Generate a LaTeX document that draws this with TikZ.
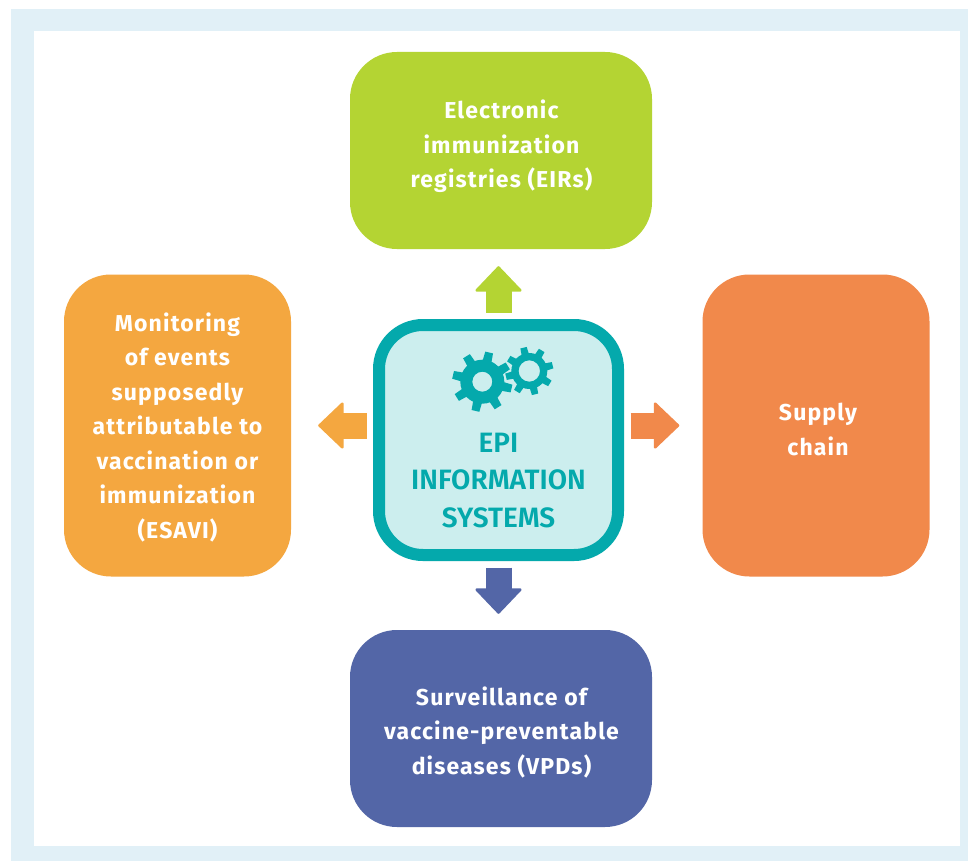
\documentclass[tikz,border=0pt]{standalone}
\usepackage{fontspec}
\setmainfont{Fira Sans}
\newfontfamily\epifont{Fira Sans SemiBold}
\usepackage{tikz}
\usetikzlibrary{arrows.meta,calc}
\definecolor{framecol}{HTML}{E1F0F7}
\definecolor{greencol}{HTML}{B4D433}
\definecolor{orangecol}{HTML}{F4A740}
\definecolor{redcol}{HTML}{F1894B}
\definecolor{bluecol}{HTML}{5366A7}
\definecolor{tealcol}{HTML}{04A9AC}
\definecolor{palecol}{HTML}{CCEEEE}
\tikzset{
	topic/.style={rounded corners=47pt, inner sep=0pt},
	topiclabel/.style={text=white, align=center, inner sep=0pt,
			font=\addfontfeature{LetterSpace=5}\fontsize{23}{34.5}\selectfont\bfseries},
	link/.style={line width=26pt,
			-{Triangle[width=49pt,length=26pt,line width=2.5pt,round]}, shorten <=6.5pt}
}
\newcommand{\cog}[6]{% x, y, body radius, hole radius, tip radius, angle
	\foreach \a in {0,45,...,315} {
			\fill[tealcol, rotate around={#6+\a:(#1,#2)}]
			(#1-0.21*#3,#2+0.85*#3) -- (#1+0.21*#3,#2+0.85*#3)
			-- (#1+0.18*#3,#2+#5) -- (#1-0.18*#3,#2+#5) -- cycle;
		}
	\fill[tealcol, even odd rule] (#1,#2) circle[radius=#3] (#1,#2) circle[radius=#4];
}
\begin{document}
\begin{tikzpicture}[x=1pt,y=-1pt]
	\useasboundingbox (0,0) rectangle (968,861);
	\fill[white] (0,0) rectangle (968,861);
	\fill[framecol] (11,9) rectangle (968,861);
	\fill[white] (34,31) rectangle (960,846);

	\node[topic, fill=greencol, minimum width=302pt, minimum height=197pt] (eirs) at (501,150.5) {};
	\node[topic, fill=orangecol, minimum width=227pt, minimum height=302pt] (esavi) at (177.5,425.5) {};
	\node[topic, fill=redcol, minimum width=227pt, minimum height=302pt] (supply) at (816,425.5) {};
	\node[topic, fill=bluecol, minimum width=302pt, minimum height=197pt] (vpds) at (501,728.5) {};
	\node[draw=tealcol, line width=12pt, fill=palecol, rounded corners=44pt,
		minimum width=239pt, minimum height=230pt] (epi) at (498.5,440) {};

	\node[topiclabel] (eirslabel) at (501.5,146.5) {Electronic\\immunization\\registries (EIRs)};
	\node[topiclabel] (esavilabel) at (177.5,427) {Monitoring\\of events\\supposedly\\attributable to\\vaccination or\\immunization\\(ESAVI)};
	\node[topiclabel] (supplylabel) at (818,429.5) {Supply\\chain};
	\node[topiclabel] (vpdslabel) at (501.5,732) {Surveillance of\\vaccine-preventable\\diseases (VPDs)};
	\node[text=tealcol, align=center, font=\epifont\fontsize{28}{37.5}\selectfont, inner sep=0pt] (epilabel)
	at (498.5,480.5) {EPI\\INFORMATION\\SYSTEMS};

	\draw[link, greencol, shorten >=17pt] (epi.north) -- (epi.north |- eirs.south);
	\draw[link, bluecol, shorten >=16pt] (epi.south) -- (epi.south |- vpds.north);
	\draw[link, orangecol, shorten >=27pt] (esavi.east -| epi.west) -- (esavi.east);
	\draw[link, redcol, shorten >=23pt] (supply.west -| epi.east) -- (supply.west);

	\cog{482.3}{381.7}{22}{10}{30}{31.8}
	\cog{529.3}{371}{18}{10.7}{24}{13.9}
\end{tikzpicture}
\end{document}
